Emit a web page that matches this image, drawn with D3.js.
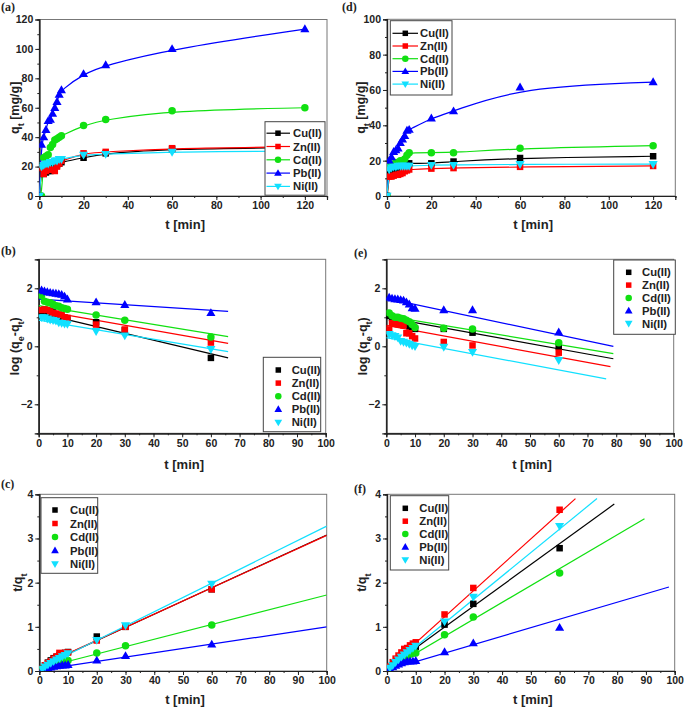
<!DOCTYPE html>
<html><head><meta charset="utf-8">
<script src="https://cdn.jsdelivr.net/npm/d3@7"></script>
<style>body{margin:0;background:#fff}svg{display:block}</style>
</head><body>
<svg id="c" width="685" height="711"></svg>
<script>
const metals = ["Cu(II)","Zn(II)","Cd(II)","Pb(II)","Ni(II)"];
const colors = ["#000000","#ff0000","#11e011","#0000ff","#11e0ff"];
const shapes = ["square","square","circle","triangle","tridown"];

const tKin = [0,1,2,3,4,5,6,7,8,9,10,20,30,60,120];
const tLin = [1,2,3,4,5,6,7,8,9,10,20,30,60];

// (a) q_t, first set
const qA_Cu = [0,19,15,16,17,17,19,20,21,22,23,26,29,32,33];
const qA_Zn = [0,19,15,17,18,18,18,17,20,22,24,29,30,32.5,33.5];
const qA_Cd = [0,0,26,27,28,33,35,38,39,40,41,48,52,58,60];
const qA_Pb = [0,35,40,45,51,52,56,60,64,69,72,83,89,100,113.5];
const qA_Ni = [0,20,21,22,22,23,23,24,24,25,25,28,28.5,30,30.5];
// (d) q_t, second set
const qD_Cu = [0,14,15,15,16,16,17,17,17,18,18.5,18.5,19.5,21.5,22.5];
const qD_Zn = [0,11,11,11.5,12,12,12.5,13,14,14.5,15,15.5,15.8,16.5,17];
const qD_Cd = [0,17,18,18,19,19,20,20,21,23,24.5,24.5,24.5,27,28.5];
const qD_Pb = [0,20,22,25,26,27,30,32,34,37,37.5,44,48,61.5,64.5];
const qD_Ni = [0,15,16,16.5,16.5,17,17,17,17,17,17,17.5,17.5,18,18];
// (b) log(qe-qt)
const lB_Cu = [1.2,1.25,1.2,1.2,1.18,1.1,1.05,1.0,0.95,0.92,0.83,0.55,-0.4];
const lB_Zn = [1.25,1.27,1.25,1.2,1.15,1.13,1.1,1.08,1.0,0.98,0.75,0.58,0.13];
const lB_Cd = [1.75,1.55,1.52,1.5,1.45,1.4,1.38,1.33,1.3,1.28,1.08,0.9,0.32];
const lB_Pb = [1.93,1.9,1.87,1.85,1.83,1.82,1.8,1.78,1.72,1.62,1.52,1.43,1.15];
const lB_Ni = [1.0,1.0,0.95,0.92,0.9,0.88,0.82,0.8,0.78,0.77,0.52,0.37,-0.1];
const fitB_int = [1.15,1.25,1.4,1.63,0.9];
const fitB_slope = [-0.0235,-0.0174,-0.0162,-0.0065,-0.0164];
const fitB_end = [66,66,66,66,66];
// (e) log(qe-qt)
const lE_Cu = [1.05,0.98,0.95,0.92,0.9,0.85,0.75,0.7,0.65,0.6,0.6,0.47,-0.02];
const lE_Zn = [0.58,0.8,0.78,0.76,0.75,0.72,0.45,0.45,0.35,0.27,0.15,0.03,-0.22];
const lE_Cd = [1.15,1.05,1.0,1.0,0.97,0.95,0.9,0.85,0.75,0.65,0.62,0.6,0.12];
const lE_Pb = [1.68,1.65,1.63,1.62,1.6,1.58,1.52,1.45,1.32,1.3,1.25,1.25,0.48];
const lE_Ni = [0.42,0.38,0.35,0.3,0.18,0.15,0.12,0.08,0.03,0.0,-0.02,-0.2,-0.48];
const fitE_int = [1.0,0.72,1.05,1.65,0.3];
const fitE_slope = [-0.0181,-0.0182,-0.0165,-0.0209,-0.0186];
const fitE_end = [79,78,79,79,76.5];
// (c) t/qt
const rC_Cu = [0.05,0.13,0.19,0.24,0.29,0.32,0.35,0.38,0.41,0.43,0.78,1.0,1.85];
const rC_Zn = [0.05,0.13,0.18,0.22,0.28,0.33,0.41,0.4,0.41,0.42,0.69,1.0,1.85];
const rC_Cd = [0.04,0.08,0.11,0.14,0.15,0.17,0.18,0.2,0.23,0.24,0.41,0.57,1.04];
const rC_Pb = [0.03,0.05,0.07,0.08,0.1,0.11,0.12,0.13,0.13,0.14,0.24,0.34,0.6];
const rC_Ni = [0.05,0.1,0.14,0.18,0.22,0.26,0.29,0.33,0.36,0.4,0.7,1.03,1.97];
const fitC_int = [0.09,0.1,0.05,0.02,0.05];
const fitC_slope = [0.0299,0.0297,0.0167,0.0098,0.0323];
const fitC_end = [100,100,100,100,100];
// (f) t/qt
const rF_Cu = [0.07,0.13,0.2,0.25,0.3,0.35,0.41,0.46,0.5,0.55,1.05,1.52,2.78];
const rF_Zn = [0.1,0.2,0.28,0.35,0.42,0.5,0.52,0.58,0.62,0.65,1.28,1.88,3.65];
const rF_Cd = [0.06,0.11,0.16,0.21,0.26,0.3,0.35,0.38,0.4,0.41,0.82,1.22,2.22];
const rF_Pb = [0.05,0.09,0.12,0.15,0.18,0.2,0.22,0.22,0.22,0.23,0.43,0.63,0.98];
const rF_Ni = [0.07,0.13,0.2,0.26,0.32,0.37,0.42,0.47,0.52,0.57,1.12,1.68,3.28];
const fitF_int = [0.05,0.05,0.02,0.02,0.02];
const fitF_slope = [0.0472,0.0588,0.0383,0.0192,0.0532];
const fitF_end = [79,65.5,89.5,98,73];

const svg = d3.select("#c");
const FONT = "'Liberation Sans', Arial, sans-serif";

function sym(g, shape, x, y, col, s) {
  if (shape === "square") {
    g.append("rect").attr("x", x - s/2).attr("y", y - s/2).attr("width", s).attr("height", s).attr("fill", col);
  } else if (shape === "circle") {
    g.append("circle").attr("cx", x).attr("cy", y).attr("r", s/2 + 0.5).attr("fill", col);
  } else {
    const t = d3.symbol().type(d3.symbolTriangle).size(s*s*0.85)();
    g.append("path").attr("d", t).attr("fill", col)
      .attr("transform", `translate(${x},${y + (shape==="tridown"?-0.5:0.5)})` + (shape === "tridown" ? " rotate(180)" : ""));
  }
}

function panel(o) {
  const g = svg.append("g");
  const x = d3.scaleLinear().domain(o.xd).range([o.x0, o.x1]);
  const y = d3.scaleLinear().domain(o.yd).range([o.y1, o.y0]);
  g.append("rect").attr("x", o.x0).attr("y", o.y0).attr("width", o.x1 - o.x0).attr("height", o.y1 - o.y0)
    .attr("fill", "none").attr("stroke", "#777").attr("stroke-width", 1);
  const ax = g.append("g").attr("transform", `translate(0,${o.y1})`)
    .call(d3.axisBottom(x).tickValues(d3.range(o.xd[0], o.xd[1] + 0.001, o.xMaj).filter(v => v <= o.xLabMax)).tickSize(4).tickPadding(2).tickFormat(d3.format("d")));
  const axm = g.append("g").attr("transform", `translate(0,${o.y1})`)
    .call(d3.axisBottom(x).tickValues(d3.range(o.xd[0], o.xd[1] + 0.001, o.xMin)).tickSize(2).tickFormat(""));
  const ay = g.append("g").attr("transform", `translate(${o.x0},0)`)
    .call(d3.axisLeft(y).tickValues(o.yLab).tickSize(4).tickPadding(2).tickFormat(d3.format("d")));
  const aym = g.append("g").attr("transform", `translate(${o.x0},0)`)
    .call(d3.axisLeft(y).tickValues(d3.range(o.yd[0], o.yd[1] + 0.001, o.yMin)).tickSize(2).tickFormat(""));
  [ax, axm, ay, aym].forEach(a => {
    a.select(".domain").attr("stroke", "#222").attr("stroke-width", 1.2);
    a.selectAll(".tick line").attr("stroke", "#222");
    a.selectAll("text").attr("font-family", FONT).attr("font-weight", "bold").attr("font-size", 10.5).attr("fill", "#222");
  });
  const cid = "clip" + o.label.replace(/\W/g, "");
  svg.append("clipPath").attr("id", cid).append("rect").attr("x", o.x0).attr("y", o.y0).attr("width", o.x1 - o.x0).attr("height", o.y1 - o.y0);
  const pg = g.append("g").attr("clip-path", `url(#${cid})`);
  o.series.forEach((s, i) => {
    if (o.mode === "curve") {
      pg.append("path").datum(d3.zip(o.t, s)).attr("fill", "none").attr("stroke", colors[i]).attr("stroke-width", 1.2)
        .attr("d", d3.line().x(d => x(d[0])).y(d => y(d[1])).curve(d3.curveBasis));
    } else {
      const pts = [[0, o.fitInt[i]], [o.fitEnd[i], o.fitInt[i] + o.fitSlope[i] * o.fitEnd[i]]];
      pg.append("path").datum(pts).attr("fill", "none").attr("stroke", colors[i]).attr("stroke-width", 1.2)
        .attr("d", d3.line().x(d => x(d[0])).y(d => y(d[1])));
    }
  });
  o.series.forEach((s, i) => {
    const mg = pg.append("g");
    s.forEach((v, j) => sym(mg, shapes[i], x(o.t[j]), y(v), colors[i], o.ms));
  });
  const L = o.leg;
  g.append("rect").attr("x", L.x).attr("y", L.y).attr("width", L.w).attr("height", L.h)
    .attr("fill", "#fff").attr("stroke", "#444").attr("stroke-width", 1);
  metals.forEach((m, i) => {
    const yy = L.y + L.r0 + i * L.dr;
    if (L.line) {
      g.append("line").attr("x1", L.lx0).attr("x2", L.lx1).attr("y1", yy).attr("y2", yy).attr("stroke", colors[i]).attr("stroke-width", 1.2);
    }
    sym(g, shapes[i], L.mx, yy, colors[i], 5.5);
    g.append("text").attr("x", L.tx).attr("y", yy + 4).text(m).attr("font-family", FONT).attr("font-weight", "bold").attr("font-size", 11.3).attr("fill", "#222");
  });
  g.append("text").attr("x", (o.x0 + o.x1) / 2 + 2).attr("y", o.xTitleY).attr("text-anchor", "middle")
    .attr("font-family", FONT).attr("font-weight", "bold").attr("font-size", 13).attr("fill", "#222").text("t [min]");
  const yt = g.append("text").attr("transform", `translate(${o.yTitleX},${(o.y0 + o.y1) / 2}) rotate(-90)`).attr("text-anchor", "middle")
    .attr("font-family", FONT).attr("font-weight", "bold").attr("font-size", 12.5).attr("fill", "#222");
  o.yTitle.forEach(p => {
    const ts = yt.append("tspan").text(p[0]);
    if (p[1]) ts.attr("font-size", 9).attr("baseline-shift", "sub");
  });
  g.append("text").attr("x", o.lx).attr("y", o.ly).text(o.label)
    .attr("font-family", "'Liberation Serif','Times New Roman',serif").attr("font-weight", "bold").attr("font-size", 12).attr("fill", "#222");
}

const qTitle = [["q"], ["t", true], [" [mg/g]"]];
const logTitle = [["log (q"], ["e", true], ["-q"], ["t", true], [")"]];
const rTitle = [["t/q"], ["t", true]];

panel({label: "(a)", lx: 1, ly: 11, x0: 39.3, x1: 327, y0: 19.5, y1: 196, xd: [0, 130], yd: [0, 120],
  xMaj: 20, xMin: 10, xLabMax: 120, yMin: 10, yLab: [0,20,40,60,80,100,120],
  t: tKin, series: [qA_Cu, qA_Zn, qA_Cd, qA_Pb, qA_Ni], mode: "curve", ms: 6.5,
  xTitleY: 229, yTitleX: 19, yTitle: qTitle,
  leg: {x: 265, y: 121.7, w: 60, h: 73.5, r0: 11.5, dr: 13.3, line: true, lx0: 266.5, lx1: 290, mx: 278, tx: 293}});

panel({label: "(d)", lx: 342, ly: 11, x0: 387, x1: 675.3, y0: 19.3, y1: 196, xd: [0, 130], yd: [0, 100],
  xMaj: 20, xMin: 10, xLabMax: 120, yMin: 10, yLab: [0,20,40,60,80,100],
  t: tKin, series: [qD_Cu, qD_Zn, qD_Cd, qD_Pb, qD_Ni], mode: "curve", ms: 6.5,
  xTitleY: 229, yTitleX: 365, yTitle: qTitle,
  leg: {x: 390.3, y: 20.7, w: 61.7, h: 74.3, r0: 12.6, dr: 12.7, line: true, lx0: 392.5, lx1: 418, mx: 405.3, tx: 420}});

panel({label: "(b)", lx: 1, ly: 255, x0: 38.7, x1: 325.7, y0: 259.3, y1: 433.3, xd: [0, 100], yd: [-3, 3],
  xMaj: 10, xMin: 5, xLabMax: 100, yMin: 1, yLab: [-2,0,2],
  t: tLin, series: [lB_Cu, lB_Zn, lB_Cd, lB_Pb, lB_Ni], mode: "fit",
  fitInt: fitB_int, fitSlope: fitB_slope, fitEnd: fitB_end, ms: 6.5,
  xTitleY: 469, yTitleX: 19, yTitle: logTitle,
  leg: {x: 263.3, y: 357.3, w: 57.4, h: 74.4, r0: 12.7, dr: 13.1, line: false, mx: 278.3, tx: 291.7}});

panel({label: "(e)", lx: 354, ly: 257, x0: 386.3, x1: 673.7, y0: 259.3, y1: 433.3, xd: [0, 100], yd: [-3, 3],
  xMaj: 10, xMin: 5, xLabMax: 100, yMin: 1, yLab: [-2,0,2],
  t: tLin, series: [lE_Cu, lE_Zn, lE_Cd, lE_Pb, lE_Ni], mode: "fit",
  fitInt: fitE_int, fitSlope: fitE_slope, fitEnd: fitE_end, ms: 6.5,
  xTitleY: 469, yTitleX: 367, yTitle: logTitle,
  leg: {x: 613.7, y: 260, w: 61.6, h: 74.3, r0: 12.3, dr: 12.8, line: false, mx: 628.7, tx: 642}});

panel({label: "(c)", lx: 1, ly: 488, x0: 39.3, x1: 326.7, y0: 494.3, y1: 671, xd: [0, 100], yd: [0, 4],
  xMaj: 10, xMin: 5, xLabMax: 100, yMin: 0.5, yLab: [0,1,2,3,4],
  t: tLin, series: [rC_Cu, rC_Zn, rC_Cd, rC_Pb, rC_Ni], mode: "fit",
  fitInt: fitC_int, fitSlope: fitC_slope, fitEnd: fitC_end, ms: 6.5,
  xTitleY: 704, yTitleX: 22, yTitle: rTitle,
  leg: {x: 41, y: 497.7, w: 56.7, h: 75.6, r0: 12.3, dr: 13.5, line: false, mx: 55, tx: 70}});

panel({label: "(f)", lx: 354, ly: 493, x0: 387, x1: 674.7, y0: 494.3, y1: 671, xd: [0, 100], yd: [0, 4],
  xMaj: 10, xMin: 5, xLabMax: 100, yMin: 0.5, yLab: [0,1,2,3,4],
  t: tLin, series: [rF_Cu, rF_Zn, rF_Cd, rF_Pb, rF_Ni], mode: "fit",
  fitInt: fitF_int, fitSlope: fitF_slope, fitEnd: fitF_end, ms: 6.5,
  xTitleY: 704, yTitleX: 366, yTitle: rTitle,
  leg: {x: 390.3, y: 495.7, w: 58.4, h: 74.3, r0: 12.6, dr: 12.9, line: false, mx: 405.3, tx: 419.3}});
</script>
</body></html>
